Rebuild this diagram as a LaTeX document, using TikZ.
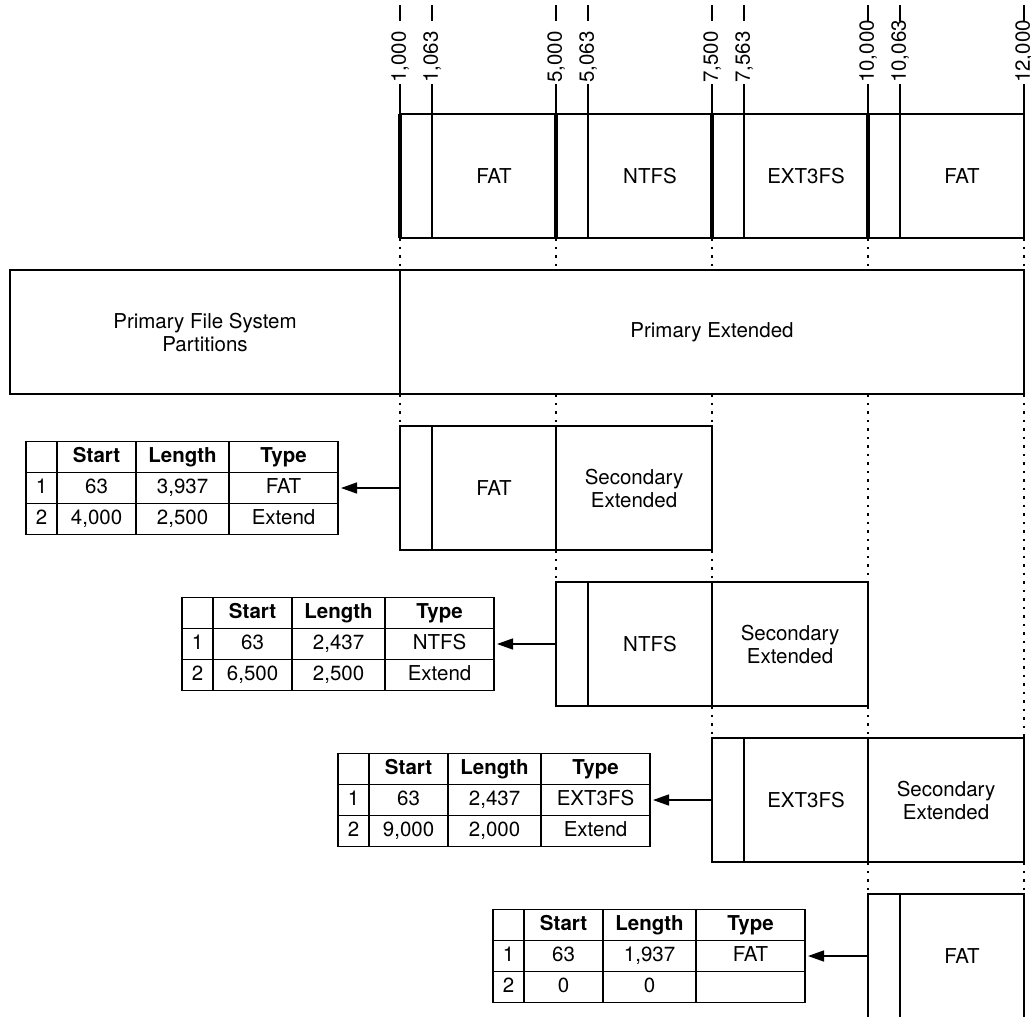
\documentclass[tikz,border=0pt]{standalone}
\usepackage{fontspec}
\setmainfont{TeX Gyre Heros}
\usetikzlibrary{arrows.meta,positioning,matrix}

\newcommand{\figfont}{\fontsize{20.5}{23}\selectfont}

\begin{document}
\begin{tikzpicture}[x=1pt, y=-1pt, >={Triangle[length=16pt,width=11pt]},
    font=\figfont,
    part/.style={draw, line width=1.5pt, minimum height=124pt, inner sep=0pt, outer sep=0pt, align=center, font=\figfont},
    divider/.style={line width=3.5pt},
    guide/.style={line width=1.3pt, dash pattern=on 2.5pt off 6pt},
    tick/.style={rotate=90, anchor=west, inner sep=1pt, font=\figfont},
    link/.style={->, line width=1.5pt, shorten >=2pt},
    parttable/.style={matrix of nodes, nodes in empty cells, inner sep=0pt, column sep=-1.5pt, row sep=-1.5pt,
      nodes={draw, line width=1.5pt, minimum height=31pt, text height=14.5pt, text depth=4pt, inner sep=0pt, anchor=center, font=\figfont},
      column 1/.style={nodes={minimum width=31pt}},
      column 2/.style={nodes={minimum width=79pt}},
      column 3/.style={nodes={minimum width=93pt}},
      column 4/.style={nodes={minimum width=109pt}},
      row 1/.style={nodes={font=\figfont\bfseries}}}]
    \useasboundingbox (0,0) rectangle (1031,1018);
    \clip (0,0) rectangle (1031,1016.5);

    \node[part, minimum width=32pt] (b1) at (416,176) {};
    \node[part, minimum width=124pt, right=0pt of b1] (fat1) {FAT};
    \node[part, minimum width=32pt, right=0pt of fat1] (b2) {};
    \node[part, minimum width=124pt, right=0pt of b2] (ntfs1) {NTFS};
    \node[part, minimum width=32pt, right=0pt of ntfs1] (b3) {};
    \node[part, minimum width=124pt, right=0pt of b3] (ext1) {EXT3FS};
    \node[part, minimum width=32pt, right=0pt of ext1] (b4) {};
    \node[part, minimum width=124pt, right=0pt of b4] (fat2) {FAT};
    \foreach \n in {b1,b2,b3,b4}
      \draw[divider] (\n.north west) -- (\n.south west);

    \foreach \x/\v [count=\i] in {400/{1,000}, 432/{1,063}, 556/{5,000}, 588/{5,063}, 712/{7,500}, 744/{7,563}, 868/{10,000}, 900/{10,063}, 1024/{12,000}} {
      \node[tick] (tk\i) at (\x,84) {\v};
      \draw[line width=1.3pt] (\x,5) -- (\x,21);
      \draw[line width=1.3pt] (tk\i.west) -- (\x,114);
    }

    \node[part, minimum width=390pt] (pfs) at (205,332) {Primary File System\\Partitions};
    \node[part, minimum width=624pt, right=0pt of pfs] (pext) {Primary Extended};

    \node[part, minimum width=32pt] (s1boot) at (416,488) {};
    \node[part, minimum width=124pt, right=0pt of s1boot] (s1fs) {FAT};
    \node[part, minimum width=156pt, right=0pt of s1fs] (s1ext) {Secondary\\Extended};

    \node[part, minimum width=32pt] (s2boot) at (572,644) {};
    \node[part, minimum width=124pt, right=0pt of s2boot] (s2fs) {NTFS};
    \node[part, minimum width=156pt, right=0pt of s2fs] (s2ext) {Secondary\\Extended};

    \node[part, minimum width=32pt] (s3boot) at (728,800) {};
    \node[part, minimum width=124pt, right=0pt of s3boot] (s3fs) {EXT3FS};
    \node[part, minimum width=156pt, right=0pt of s3fs] (s3ext) {Secondary\\Extended};

    \node[part, minimum width=32pt] (s4boot) at (884,956) {};
    \node[part, minimum width=124pt, right=0pt of s4boot] (s4fs) {FAT};

    \matrix[parttable, left=61pt of s1boot] (tab1) {
        & Start & Length & Type \\
      1 & 63 & 3,937 & FAT \\
      2 & 4,000 & 2,500 & Extend \\
    };
    \matrix[parttable, left=61pt of s2boot] (tab2) {
        & Start & Length & Type \\
      1 & 63 & 2,437 & NTFS \\
      2 & 6,500 & 2,500 & Extend \\
    };
    \matrix[parttable, left=61pt of s3boot] (tab3) {
        & Start & Length & Type \\
      1 & 63 & 2,437 & EXT3FS \\
      2 & 9,000 & 2,000 & Extend \\
    };
    \matrix[parttable, left=62pt of s4boot] (tab4) {
        & Start & Length & Type \\
      1 & 63 & 1,937 & FAT \\
      2 & 0 & 0 & \\
    };

    \draw[link] (s1boot.west) -- (tab1.east);
    \draw[link] (s2boot.west) -- (tab2.east);
    \draw[link] (s3boot.west) -- (tab3.east);
    \draw[link] (s4boot.west) -- (tab4.east);

    \foreach \n in {b1,b2,b3,b4}
      \draw[guide] (\n.south west) -- (\n.south west |- pext.north);
    \draw[guide] (fat2.south east) -- (pext.north east);
    \draw[guide] (pext.south west) -- (s1boot.north west);
    \draw[guide] (s1fs.north east |- pext.south) -- (s1fs.north east);
    \draw[guide] (s1ext.north east |- pext.south) -- (s1ext.north east);
    \draw[guide] (s2ext.north east |- pext.south) -- (s2ext.north east);
    \draw[guide] (pext.south east) -- (s3ext.north east);
    \draw[guide] (s1fs.south east) -- (s2boot.north west);
    \draw[guide] (s1ext.south east) -- (s2fs.north east);
    \draw[guide] (s2fs.south east) -- (s3boot.north west);
    \draw[guide] (s2ext.south east) -- (s3fs.north east);
    \draw[guide] (s3fs.south east) -- (s4boot.north west);
    \draw[guide] (s3ext.south east) -- (s4fs.north east);
\end{tikzpicture}
\end{document}
